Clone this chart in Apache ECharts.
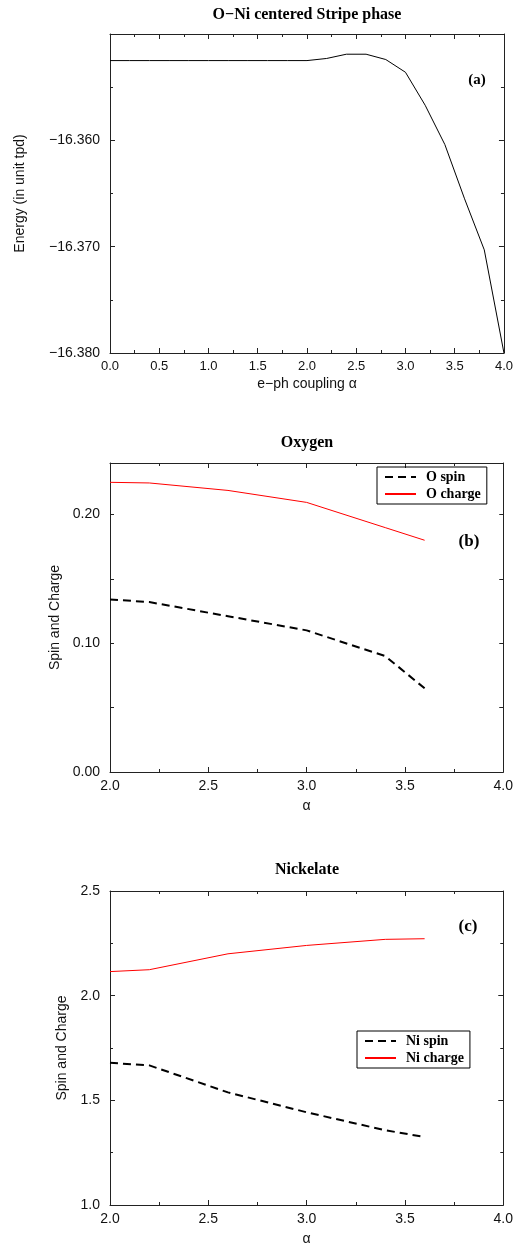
<!DOCTYPE html>
<html>
<head>
<meta charset="utf-8">
<script src="https://cdn.jsdelivr.net/npm/echarts@6/dist/echarts.min.js"></script>
<style>
html,body{margin:0;padding:0;background:#fff;}
#main{width:516px;height:1247px;}
</style>
</head>
<body>
<div id="main"></div>
<script>
// ---- Data ----
const alphaA = [0.0,0.2,0.4,0.6,0.8,1.0,1.2,1.4,1.6,1.8,2.0,2.2,2.4,2.6,2.8,3.0,3.2,3.4,3.6,3.8,4.0];
const energyA = [-16.3525,-16.3525,-16.3525,-16.3525,-16.3525,-16.3525,-16.3525,-16.3525,-16.3525,-16.3525,-16.3525,
                 -16.3523,-16.3519,-16.3519,-16.3524,-16.3536,-16.3567,-16.3604,-16.3655,-16.3703,-16.3800];
const alphaBC = [2.0,2.2,2.6,3.0,3.4,3.6];
const oSpin = [0.134,0.132,0.121,0.110,0.090,0.065];
const oCharge = [0.225,0.2245,0.2187,0.2094,0.1898,0.180];
const niSpin = [1.679,1.667,1.538,1.443,1.357,1.325];
const niCharge = [2.115,2.124,2.200,2.240,2.269,2.272];

const titles = ['O\u2212Ni centered Stripe phase','Oxygen','Nickelate'];
const panelTags = ['(a)','(b)','(c)'];

const pair = (xs, ys) => xs.map((x,i)=>[x, ys[i]]);

const AX = '#222';
const SANS = 'Liberation Sans, Arial, sans-serif';
const SERIF = 'Liberation Serif, Times New Roman, serif';

function xAx(gi, min, max, pos, name, labelSize, nameGap){
  const a = {
    type:'value', gridIndex:gi, min:min, max:max, interval:0.5, position:pos,
    axisLine:{show:true, onZero:false, lineStyle:{color:AX, width:1}},
    axisTick:{show:true, inside:true, length:5, lineStyle:{color:AX}},
    minorTick:{show:true, splitNumber:2, length:3, lineStyle:{color:AX}},
    splitLine:{show:false}, minorSplitLine:{show:false},
    axisLabel:{show:pos==='bottom', fontFamily:SANS, fontSize:labelSize, color:'#111', margin:7,
      formatter:v=>v.toFixed(1)}
  };
  if(name){
    a.name = name; a.nameLocation='middle'; a.nameGap=nameGap;
    a.nameTextStyle={fontFamily:SANS, fontSize:14, color:'#111'};
  }
  return a;
}
function yAx(gi, min, max, interval, pos, opts){
  const a = {
    type:'value', gridIndex:gi, min:min, max:max, interval:interval, position:pos,
    axisLine:{show:true, onZero:false, lineStyle:{color:AX, width:1}},
    axisTick:{show:true, inside:true, length:opts.tickLen||5, lineStyle:{color:AX}},
    minorTick:{show:!!opts.minor, splitNumber:2, length:3, lineStyle:{color:AX}},
    splitLine:{show:false}, minorSplitLine:{show:false},
    axisLabel:{show:pos==='left', fontFamily:SANS, fontSize:14, color:'#111', margin:10,
      showMaxLabel: opts.showMax===true, formatter:opts.fmt}
  };
  if(opts.name){
    a.name = opts.name; a.nameLocation='middle'; a.nameGap=opts.nameGap;
    a.nameTextStyle={fontFamily:SANS, fontSize:14, color:'#111'};
  }
  return a;
}

const fmtA = v => v.toFixed(3).replace('-','\u2212');
const fmtB = v => { const k = Math.round(v*100); return (k % 10 === 0) ? v.toFixed(2) : ''; };
const fmtC = v => v.toFixed(1);

const legendText = {fontFamily:SERIF, fontWeight:'bold', fontSize:14, color:'#000', padding:[0,0,0,5]};

const option = {
  animation:false,
  backgroundColor:'#fff',
  grid:[
    {left:110, top:34, width:394, height:319},
    {left:110, top:463, width:394, height:309},
    {left:110, top:891, width:394, height:319}
  ],
  xAxis:[
    xAx(0,0,4,'bottom','e\u2212ph coupling \u03b1',13,24),
    xAx(0,0,4,'top',null,13,0),
    xAx(1,2,4,'bottom','\u03b1',14,27),
    xAx(1,2,4,'top',null,14,0),
    xAx(2,2,4,'bottom','\u03b1',14,27),
    xAx(2,2,4,'top',null,14,0)
  ],
  yAxis:[
    yAx(0,-16.38,-16.35,0.01,'left',{minor:true, fmt:fmtA, name:'Energy (in unit tpd)', nameGap:83}),
    yAx(0,-16.38,-16.35,0.01,'right',{minor:true, fmt:fmtA}),
    yAx(1,0,0.24,0.05,'left',{minor:false, tickLen:4, fmt:fmtB, name:'Spin and Charge', nameGap:48}),
    yAx(1,0,0.24,0.05,'right',{minor:false, tickLen:4, fmt:fmtB}),
    yAx(2,1,2.5,0.5,'left',{minor:true, showMax:true, fmt:fmtC, name:'Spin and Charge', nameGap:38}),
    yAx(2,1,2.5,0.5,'right',{minor:true, fmt:fmtC})
  ],
  legend:[
    {orient:'vertical', left:377, top:467, data:['O spin','O charge'],
     borderColor:'#000', borderWidth:1, borderRadius:0, padding:[3,6,3,7],
     itemWidth:31, itemHeight:14, itemGap:3, textStyle:legendText, selectedMode:false,
     itemStyle:{opacity:0}},
    {orient:'vertical', left:357, top:1031, data:['Ni spin','Ni charge'],
     borderColor:'#000', borderWidth:1, borderRadius:0, padding:[3,6,3,7],
     itemWidth:31, itemHeight:14, itemGap:3, textStyle:legendText, selectedMode:false,
     itemStyle:{opacity:0}}
  ],
  series:[
    {name:'Energy', type:'line', xAxisIndex:0, yAxisIndex:0, data:pair(alphaA, energyA),
     symbol:'none', lineStyle:{color:'#000', width:1}, itemStyle:{color:'#000'}},
    {name:'O spin', type:'line', xAxisIndex:2, yAxisIndex:2, data:pair(alphaBC, oSpin),
     symbol:'none', lineStyle:{color:'#000', width:2, type:[8,5]}, itemStyle:{color:'#000'}},
    {name:'O charge', type:'line', xAxisIndex:2, yAxisIndex:2, data:pair(alphaBC, oCharge),
     symbol:'none', lineStyle:{color:'#ff0000', width:1}, itemStyle:{color:'#ff0000'}},
    {name:'Ni spin', type:'line', xAxisIndex:4, yAxisIndex:4, data:pair(alphaBC, niSpin),
     symbol:'none', lineStyle:{color:'#000', width:2, type:[8,5]}, itemStyle:{color:'#000'}},
    {name:'Ni charge', type:'line', xAxisIndex:4, yAxisIndex:4, data:pair(alphaBC, niCharge),
     symbol:'none', lineStyle:{color:'#ff0000', width:1}, itemStyle:{color:'#ff0000'}}
  ],
  graphic:[
    {type:'text', x:307, y:15, style:{text:titles[0], font:'bold 16px '+SERIF, fill:'#000', align:'center', verticalAlign:'middle'}},
    {type:'text', x:307, y:443, style:{text:titles[1], font:'bold 16px '+SERIF, fill:'#000', align:'center', verticalAlign:'middle'}},
    {type:'text', x:307, y:870, style:{text:titles[2], font:'bold 16px '+SERIF, fill:'#000', align:'center', verticalAlign:'middle'}},
    {type:'text', x:477, y:80, style:{text:panelTags[0], font:'bold 15px '+SERIF, fill:'#000', align:'center', verticalAlign:'middle'}},
    {type:'text', x:469, y:542, style:{text:panelTags[1], font:'bold 17px '+SERIF, fill:'#000', align:'center', verticalAlign:'middle'}},
    {type:'text', x:468, y:927, style:{text:panelTags[2], font:'bold 17px '+SERIF, fill:'#000', align:'center', verticalAlign:'middle'}}
  ]
};

const chart = echarts.init(document.getElementById('main'), null, {renderer:'canvas'});
chart.setOption(option);
</script>
</body>
</html>
